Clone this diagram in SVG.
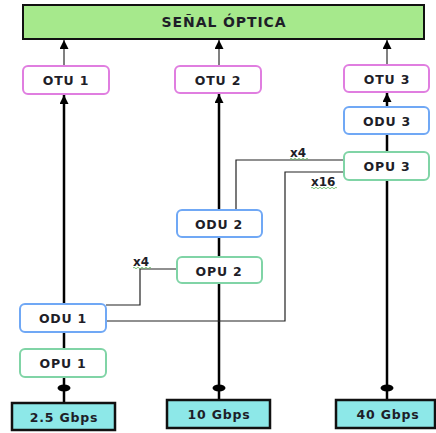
<svg xmlns="http://www.w3.org/2000/svg" width="436" height="433" viewBox="0 0 436 433">
<defs>
<marker id="ah" viewBox="0 0 10 10" refX="10" refY="5" markerWidth="9" markerHeight="9" markerUnits="userSpaceOnUse" orient="auto">
<path d="M0,0 L10,5 L0,10 Z" fill="#000"/>
</marker>
<style>
.t{font-family:"DejaVu Sans",Verdana,sans-serif;font-weight:bold;font-size:12.5px;letter-spacing:0.8px;fill:#1e1e28;text-anchor:middle;dominant-baseline:central}
.lbl{font-family:"DejaVu Sans",Verdana,sans-serif;font-weight:bold;font-size:12px;fill:#1e1e28}
.otu{fill:#fff;stroke:#e07ee0;stroke-width:2}
.odu{fill:#fff;stroke:#70a8f5;stroke-width:2}
.opu{fill:#fff;stroke:#80d4a6;stroke-width:2}
.rate{fill:#8de8e8;stroke:#111;stroke-width:2.5}
.main{stroke:#000;stroke-width:2.5;fill:none}
.up{stroke:#808080;stroke-width:2;fill:none}
.mux{stroke:#222;stroke-width:1.2;fill:none}
.wave{stroke:#5cb85c;stroke-width:0.8;fill:none}
</style>
</defs>
<g id="connectors">
<line class="up" x1="64" y1="66" x2="64" y2="40" marker-end="url(#ah)"/>
<line class="up" x1="219" y1="66" x2="219" y2="40" marker-end="url(#ah)"/>
<line class="up" x1="387" y1="65" x2="387" y2="40" marker-end="url(#ah)"/>
<line class="main" x1="64" y1="403" x2="64" y2="95" marker-end="url(#ah)"/>
<line class="main" x1="219" y1="400" x2="219" y2="94" marker-end="url(#ah)"/>
<line class="main" x1="387" y1="400" x2="387" y2="93" marker-end="url(#ah)"/>
<ellipse cx="64" cy="388" rx="6.5" ry="3.5" fill="#000"/>
<ellipse cx="219" cy="388" rx="6.5" ry="3.5" fill="#000"/>
<ellipse cx="387" cy="388" rx="6.5" ry="3.5" fill="#000"/>
<polyline class="mux" points="344,160 236,160 236,210"/>
<polyline class="mux" points="344,172 285,172 285,321 106,321"/>
<polyline class="mux" points="177,269 140,269 140,305 106,305"/>
<text class="lbl" x="290" y="157">x4</text>
<path class="wave" d="M290,159 q1,-1.5 2,0 t2,0 t2,0 t2,0 t2,0 t2,0 t2,0 t2,0 t2,0"/>
<text class="lbl" x="311" y="186">x16</text>
<path class="wave" d="M311,188 q1,-1.5 2,0 t2,0 t2,0 t2,0 t2,0 t2,0 t2,0 t2,0 t2,0 t2,0 t2,0 t2,0 t2,0"/>
<text class="lbl" x="133" y="266">x4</text>
<path class="wave" d="M133,268 q1,-1.5 2,0 t2,0 t2,0 t2,0 t2,0 t2,0 t2,0 t2,0 t2,0"/>
</g>
<g id="senal">
<rect x="23" y="5" width="401" height="34" fill="#a6e98c" stroke="#111" stroke-width="2"/>
<text class="t" x="224" y="22" style="font-size:14px;letter-spacing:0.9px">SEÑAL ÓPTICA</text>
</g>
<g id="otu1"><rect class="otu" x="23" y="66" width="86" height="28" rx="5"/><text class="t" x="66" y="80">OTU 1</text></g>
<g id="otu2"><rect class="otu" x="175" y="66" width="86" height="27" rx="5"/><text class="t" x="218" y="80">OTU 2</text></g>
<g id="otu3"><rect class="otu" x="344" y="65" width="85" height="27" rx="5"/><text class="t" x="387" y="79">OTU 3</text></g>
<g id="odu3"><rect class="odu" x="344" y="107" width="85" height="27" rx="5"/><text class="t" x="387" y="121">ODU 3</text></g>
<g id="opu3"><rect class="opu" x="344" y="152" width="85" height="28" rx="5"/><text class="t" x="387" y="166">OPU 3</text></g>
<g id="odu2"><rect class="odu" x="177" y="210" width="85" height="27" rx="5"/><text class="t" x="219" y="224">ODU 2</text></g>
<g id="opu2"><rect class="opu" x="177" y="257" width="85" height="26" rx="5"/><text class="t" x="219" y="271">OPU 2</text></g>
<g id="odu1"><rect class="odu" x="20" y="304" width="86" height="28" rx="5"/><text class="t" x="63" y="318">ODU 1</text></g>
<g id="opu1"><rect class="opu" x="20" y="349" width="86" height="28" rx="5"/><text class="t" x="63" y="363">OPU 1</text></g>
<g id="r25"><rect class="rate" x="12" y="403" width="103" height="27"/><text class="t" x="64" y="417">2.5 Gbps</text></g>
<g id="r10"><rect class="rate" x="167" y="400" width="103" height="28"/><text class="t" x="219" y="414">10 Gbps</text></g>
<g id="r40"><rect class="rate" x="336" y="400" width="99" height="28"/><text class="t" x="388" y="414">40 Gbps</text></g>
</svg>
